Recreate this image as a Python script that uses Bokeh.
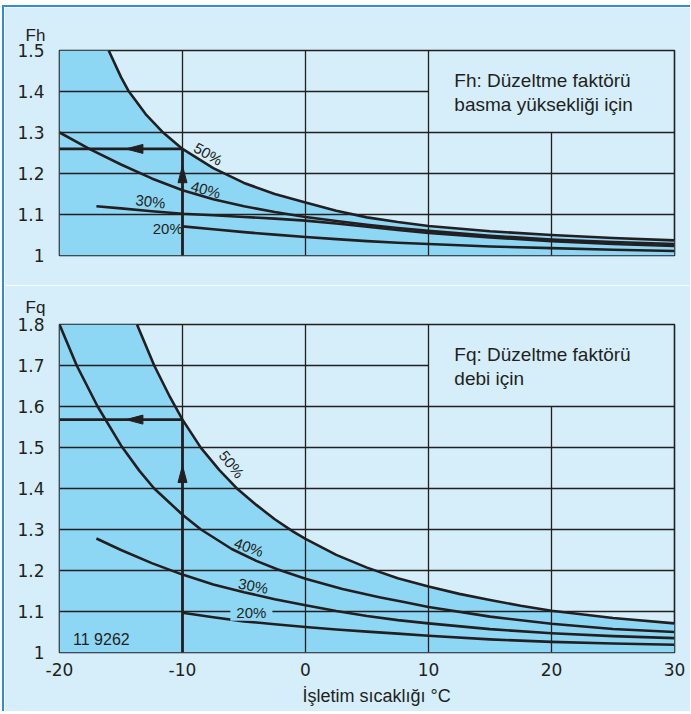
from bokeh.plotting import figure
from bokeh.layouts import column
from bokeh.models import Range1d, FixedTicker, Label, Title
from bokeh.embed import file_html
from bokeh.resources import INLINE

# ---------------- data ----------------
temp_ticks = [-20, -10, 0, 10, 20, 30]
temp_tick_labels = ["-20", "-10", "0", "10", "20", "30"]
fh_ticks = [1.0, 1.1, 1.2, 1.3, 1.4, 1.5]
fh_tick_labels = ["1", "1.1", "1.2", "1.3", "1.4", "1.5"]
fq_ticks = [1.0, 1.1, 1.2, 1.3, 1.4, 1.5, 1.6, 1.7, 1.8]
fq_tick_labels = ["1", "1.1", "1.2", "1.3", "1.4", "1.5", "1.6", "1.7", "1.8"]

# Fh curves (basma yüksekliği)
fh50_t = [-16, -15, -14.4, -13, -11.65, -10, -7.5, -5, -2.5, 0, 2.5, 5, 7.5, 10, 15, 20, 25, 30]
fh50_v = [1.5, 1.435, 1.402, 1.345, 1.302, 1.26, 1.213, 1.177, 1.15, 1.129, 1.109, 1.093, 1.0815, 1.072, 1.059, 1.05, 1.0425, 1.037]
fh40_t = [-20, -17.5, -15, -12.5, -10, -7.5, -5, -2.5, 0, 2.5, 5, 7.5, 10, 15, 20, 25, 30]
fh40_v = [1.30, 1.259, 1.222, 1.188, 1.159, 1.137, 1.12, 1.106, 1.094, 1.084, 1.075, 1.067, 1.06, 1.048, 1.039, 1.033, 1.028]
fh30_t = [-17, -15, -12.5, -10, -7.5, -5, -2.5, 0, 2.5, 5, 7.5, 10, 15, 20, 25, 30]
fh30_v = [1.12, 1.115, 1.108, 1.102, 1.098, 1.094, 1.09, 1.085, 1.078, 1.07, 1.062, 1.055, 1.044, 1.035, 1.028, 1.023]
fh20_t = [-10, -7.5, -5, -2.5, 0, 2.5, 5, 7.5, 10, 15, 20, 25, 30]
fh20_v = [1.071, 1.064, 1.057, 1.051, 1.045, 1.04, 1.035, 1.031, 1.028, 1.022, 1.018, 1.014, 1.011]

# Fq curves (debi)
fq50_t = [-13.7, -12.3, -11, -10, -8.5, -7, -5.5, -4, -2.5, -1, 0, 2.5, 5, 7.5, 10, 12.5, 15, 17.5, 20, 25, 30]
fq50_v = [1.8, 1.7, 1.622, 1.568, 1.499, 1.445, 1.398, 1.36, 1.325, 1.295, 1.277, 1.238, 1.207, 1.181, 1.161, 1.143, 1.128, 1.114, 1.102, 1.084, 1.071]
fq40_t = [-20, -18.6, -16.9, -15, -13.5, -12.3, -10, -8.5, -6, -4, -2.3, 0, 3, 6, 8, 10, 15, 20, 25, 30]
fq40_v = [1.8, 1.7, 1.6, 1.505, 1.443, 1.40, 1.336, 1.3, 1.2525, 1.2235, 1.203, 1.18, 1.155, 1.135, 1.123, 1.111, 1.0875, 1.07, 1.0575, 1.05]
fq30_t = [-17, -15, -12.5, -10, -7.5, -5, -2.5, 0, 2.5, 5, 7.5, 10, 15, 20, 25, 30]
fq30_v = [1.278, 1.25, 1.218, 1.19, 1.166, 1.147, 1.13, 1.115, 1.101, 1.089, 1.079, 1.071, 1.057, 1.047, 1.04, 1.035]
fq20_t = [-10, -7.5, -5, -2.5, 0, 2.5, 5, 7.5, 10, 15, 20, 25, 30]
fq20_v = [1.097, 1.086, 1.076, 1.069, 1.062, 1.056, 1.051, 1.046, 1.041, 1.032, 1.026, 1.022, 1.019]

# reading example (arrows): temperature, value, arrow-tip positions
fh_read = dict(t=-10, v=1.26, tip_v=1.219, tip_t=-14.6)
fq_read = dict(t=-10, v=1.568, tip_v=1.456, tip_t=-14.6)

# curve labels: text, t, value, angle (deg)
fh_labels = [("50%", -7.9, 1.248, -30), ("40%", -8.1, 1.161, -15),
             ("30%", -12.6, 1.132, -7), ("20%", -11.2, 1.066, 0)]
fq_labels = [("50%", -6.0, 1.459, -52), ("40%", -4.6, 1.257, -20),
             ("30%", -4.25, 1.163, -10), ("20%", -4.4, 1.098, 0)]

# ---------------- style ----------------
BG = "#d5eef9"
FILL = "#8dd7f5"
INK = "#231f20"
EDGE = "#2f8fd0"
W = 686
LEFT = 55
FRAME_W = 615
TICK_FONT = "DejaVu Sans"
TEXT_FONT = "Liberation Sans"


def make_panel(height, top, bottom, ymin, ymax, yticks, ylabels, c50, curves,
               box_y, read, labels, name, box_lines, show_x, title_standoff):
    frame_h = height - top - bottom
    p = figure(width=W, height=height, output_backend="svg", toolbar_location=None,
               x_range=Range1d(-20, 30), y_range=Range1d(ymin, ymax),
               min_border_left=LEFT, min_border_right=W - LEFT - FRAME_W,
               min_border_top=top, min_border_bottom=bottom)
    p.background_fill_color = BG
    p.border_fill_color = BG
    p.outline_line_color = INK
    p.outline_line_width = 1.6
    p.xgrid.visible = False
    p.ygrid.visible = False

    p.title.text = name
    p.title.align = "left"
    p.title.offset = -34
    p.title.text_font = TEXT_FONT
    p.title.text_font_size = "17px"
    p.title.text_font_style = "normal"
    p.title.text_color = INK
    p.title.standoff = title_standoff

    sx = FRAME_W / 50.0
    sy = frame_h / (ymax - ymin)

    # shaded area under the 50% curve
    ft = [-20] + c50[0]
    fv = [ymax] + c50[1]
    p.varea(x=ft, y1=[ymin] * len(ft), y2=fv, fill_color=FILL)

    # grid (omitted inside the caption box at upper right)
    box_t = 10
    gx0, gy0, gx1, gy1 = [], [], [], []
    for t in temp_ticks[1:-1]:
        gx0.append(t); gx1.append(t); gy0.append(ymin)
        gy1.append(ymax if t <= box_t else box_y)
    for v in yticks[1:-1]:
        gy0.append(v); gy1.append(v); gx0.append(-20)
        gx1.append(30 if v <= box_y else box_t)
    p.segment(x0=gx0, y0=gy0, x1=gx1, y1=gy1, line_color=INK, line_width=1.3)

    for (ts, vs) in curves:
        p.line(ts, vs, line_color=INK, line_width=2.6, line_join="round")

    # reading arrows
    p.segment(x0=[read["t"], read["t"]], y0=[ymin, read["v"]],
              x1=[read["t"], -20], y1=[read["v"], read["v"]],
              line_color=INK, line_width=2.8)
    L, hw = 17, 4.5
    t0, v0 = read["t"], read["tip_v"]
    up_x = [t0, t0 - hw / sx, t0 + hw / sx]
    up_y = [v0, v0 - L / sy, v0 - L / sy]
    t1, v1 = read["tip_t"], read["v"]
    lf_x = [t1, t1 + L / sx, t1 + L / sx]
    lf_y = [v1, v1 + hw / sy, v1 - hw / sy]
    p.patches(xs=[up_x, lf_x], ys=[up_y, lf_y], fill_color=INK, line_color=INK, line_width=1)

    for (txt, t, v, ang) in labels:
        kw = {}
        if txt == "20%" and name == "Fq":
            kw = dict(background_fill_color=FILL,
                      padding=dict(left=6, right=6, top=0, bottom=0))
        p.add_layout(Label(x=t, y=v, text=txt, angle=ang, angle_units="deg",
                           text_align="center", text_baseline="middle",
                           text_font=TEXT_FONT, text_font_size="15px",
                           text_color=INK, **kw))

    # caption in box
    for i, line in enumerate(box_lines):
        p.add_layout(Label(x=12.1, y=ymax, y_offset=-(30 + 24 * i), text=line,
                           text_font=TEXT_FONT, text_font_size="19px", text_color=INK,
                           text_align="left", text_baseline="middle"))

    p.yaxis.ticker = FixedTicker(ticks=yticks)
    p.yaxis.major_label_overrides = dict(zip(yticks, ylabels))
    p.yaxis.axis_line_color = None
    p.yaxis.major_tick_line_color = None
    p.yaxis.minor_tick_line_color = None
    p.yaxis.major_label_standoff = 9
    p.yaxis.major_label_text_font = TICK_FONT
    p.yaxis.major_label_text_font_size = "17px"
    p.yaxis.major_label_text_color = INK

    if show_x:
        p.xaxis.ticker = FixedTicker(ticks=temp_ticks)
        p.xaxis.major_label_overrides = dict(zip(temp_ticks, temp_tick_labels))
        p.xaxis.axis_line_color = None
        p.xaxis.major_tick_line_color = None
        p.xaxis.minor_tick_line_color = None
        p.xaxis.major_label_standoff = 4
        p.xaxis.major_label_text_font = TICK_FONT
        p.xaxis.major_label_text_font_size = "17px"
        p.xaxis.major_label_text_color = INK
    else:
        p.xaxis.visible = False
    return p


p1 = make_panel(278, 43, 30, 1.0, 1.5, fh_ticks, fh_tick_labels,
                (fh50_t, fh50_v),
                [(fh50_t, fh50_v), (fh40_t, fh40_v), (fh30_t, fh30_v), (fh20_t, fh20_v)],
                1.3, fh_read, fh_labels, "Fh",
                ["Fh: Düzeltme faktörü", "basma yüksekliği için"], False, 12)

p2 = make_panel(426, 39, 59, 1.0, 1.8, fq_ticks, fq_tick_labels,
                (fq50_t, fq50_v),
                [(fq50_t, fq50_v), (fq40_t, fq40_v), (fq30_t, fq30_v), (fq20_t, fq20_v)],
                1.6, fq_read, fq_labels, "Fq",
                ["Fq: Düzeltme faktörü", "debi için"], True, 16)

# small code in lower-left corner
p2.add_layout(Label(x=-18.9, y=1.0, y_offset=5, text="11  9262", text_font=TEXT_FONT,
                    text_font_size="16px", text_color=INK, text_baseline="bottom",
                    text_align="left"))
# x axis title
p2.add_layout(Title(text="İşletim sıcaklığı °C", align="left", offset=243,
                    text_font=TEXT_FONT, text_font_size="18px", text_font_style="normal",
                    text_color=INK, standoff=11), "below")

layout = column(p1, p2, spacing=0, margin=(5, 0, 0, 2),
                styles={"border-top": "2px solid " + EDGE, "border-left": "2px solid " + EDGE})
open("out.html", "w").write(file_html(layout, INLINE))
